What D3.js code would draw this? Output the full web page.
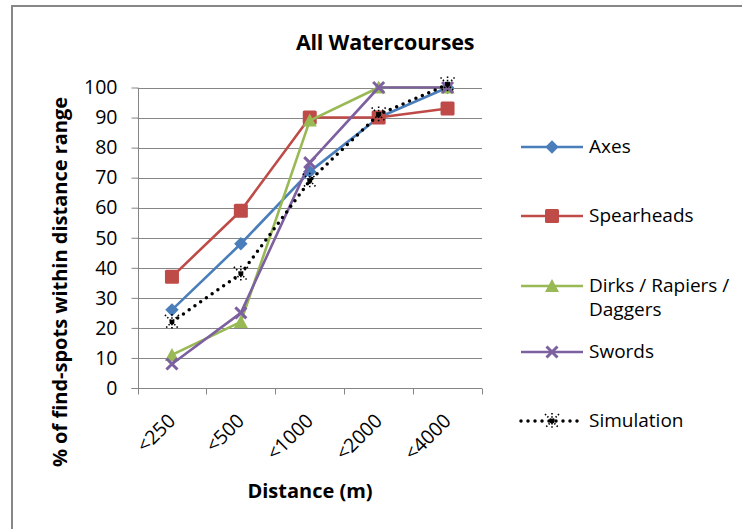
<!DOCTYPE html>
<html><head><meta charset="utf-8">
<script src="https://cdn.jsdelivr.net/npm/d3@7"></script>
<style>body{margin:0;background:#fff}svg{display:block}text{font-family:"Open Sans",Lato,sans-serif;fill:#000}</style>
</head><body><svg id="c" width="742" height="529"></svg>
<script>
const categories = ["<250", "<500", "<1000", "<2000", "<4000"];
const yTicks = [0,10,20,30,40,50,60,70,80,90,100];
const axes = [26, 48, 72, 90, 100];
const spearheads = [37, 59, 90, 90, 93];
const dirks = [11, 22, 89, 100, 100];
const swords = [8, 25, 75, 100, 100];
const simulation = [22, 38, 69, 91, 101];
const seriesNames = ["Axes", "Spearheads", "Dirks / Rapiers / Daggers", "Swords", "Simulation"];

const series = [
  {name: seriesNames[0], values: axes, color: "#4a7ebb", marker: "diamond"},
  {name: seriesNames[1], values: spearheads, color: "#be4b48", marker: "square"},
  {name: seriesNames[2], values: dirks, color: "#98b954", marker: "triangle"},
  {name: seriesNames[3], values: swords, color: "#7d60a0", marker: "x"},
  {name: seriesNames[4], values: simulation, color: "#000", marker: "star", dotted: true}
];

const svg = d3.select("#c");
const L = 137.5, R = 482, T = 87.5, B = 388;
const x = d3.scaleBand().domain(categories).range([L, R]);
const y = d3.scaleLinear().domain([0, 100]).range([B, T]);

// outer border (left & top visible)
svg.append("line").attr("x1", 12).attr("x2", 12).attr("y1", 6).attr("y2", 529).attr("stroke", "#878787").attr("stroke-width", 2);
svg.append("line").attr("x1", 11).attr("x2", 742).attr("y1", 6).attr("y2", 6).attr("stroke", "#878787").attr("stroke-width", 2);

// title
svg.append("text").attr("x", 385).attr("y", 50).attr("text-anchor", "middle")
  .style("font-size", "21.5px").style("font-weight", "bold").style("letter-spacing", "-0.2px").text("All Watercourses");

// gridlines
svg.append("g").selectAll("line").data(yTicks.filter(d => d > 0)).join("line")
  .attr("x1", L).attr("x2", R).attr("y1", d => Math.round(y(d)) + 0.5).attr("y2", d => Math.round(y(d)) + 0.5)
  .attr("stroke", "#868686").attr("stroke-width", 1);

// y axis
const yAxis = d3.axisLeft(y).tickValues(yTicks).tickSize(7).tickPadding(14);
const gy = svg.append("g").attr("transform", `translate(${Math.round(L) + 0.5},0)`).call(yAxis);
gy.select(".domain").attr("stroke", "#868686").attr("d", `M-7,${Math.round(y(0))+0.5}H0V${Math.round(y(100))+0.5}`);
gy.selectAll(".tick line").attr("stroke", "#868686");
gy.selectAll(".tick text").style("font-size", "19.5px").attr("font-family", null).attr("fill", "#000");

// x axis
const gx = svg.append("g").attr("transform", `translate(0,${Math.round(B) + 0.5})`);
gx.append("line").attr("x1", L).attr("x2", R).attr("stroke", "#868686");
const bounds = categories.map(c => x(c)).concat([R]);
gx.selectAll(".tk").data(bounds).join("line").attr("class", "tk")
  .attr("x1", d => Math.round(d) + 0.5).attr("x2", d => Math.round(d) + 0.5).attr("y1", 0).attr("y2", 6).attr("stroke", "#868686");
gx.selectAll(".lbl").data(categories).join("text").attr("class", "lbl")
  .attr("text-anchor", "end").style("font-size", "19.5px")
  .attr("transform", d => `translate(${x(d) + x.bandwidth()/2 - 5},${24}) rotate(-45)`)
  .attr("dy", "0.7em").text(d => d);

// axis titles
svg.append("text").attr("x", 310).attr("y", 498).attr("text-anchor", "middle")
  .style("font-size", "20px").style("font-weight", "bold").text("Distance (m)");
svg.append("text").attr("transform", `translate(59,${282}) rotate(-90)`).attr("text-anchor", "middle")
  .attr("dominant-baseline", "central")
  .style("font-size", "20px").style("font-weight", "bold").text("% of find-spots within distance range");

function drawMarker(g, type, color, cx, cy) {
  if (type === "diamond") {
    g.append("path").attr("d", d3.symbol(d3.symbolSquare, 90)()).attr("transform", `translate(${cx},${cy}) rotate(45)`).attr("fill", color);
  } else if (type === "square") {
    g.append("rect").attr("x", cx - 7).attr("y", cy - 7).attr("width", 14).attr("height", 14).attr("rx", 1.5).attr("fill", color);
  } else if (type === "triangle") {
    g.append("path").attr("d", `M${cx},${cy-7}L${cx+7},${cy+6}L${cx-7},${cy+6}Z`).attr("fill", color);
  } else if (type === "x") {
    g.append("path").attr("d", `M${cx-5.5},${cy-5.5}L${cx+5.5},${cy+5.5}M${cx+5.5},${cy-5.5}L${cx-5.5},${cy+5.5}`)
      .attr("stroke", color).attr("stroke-width", 3);
  } else if (type === "star") {
    g.append("path").attr("d", `M${cx-7},${cy-7}L${cx+7},${cy+7}M${cx+7},${cy-7}L${cx-7},${cy+7}M${cx},${cy-8}L${cx},${cy+8}`)
      .attr("stroke", color).attr("stroke-width", 1.6).attr("stroke-dasharray", "1.5 1.8");
    g.append("circle").attr("cx", cx).attr("cy", cy).attr("r", 2.5).attr("fill", color);
  }
}

const line = d3.line().x((d, i) => x(categories[i]) + x.bandwidth()/2).y(d => y(d));
series.forEach(s => {
  const g = svg.append("g");
  const p = g.append("path").attr("d", line(s.values)).attr("fill", "none").attr("stroke", s.color);
  if (s.dotted) p.attr("stroke-width", 3.5).attr("stroke-linecap", "round").attr("stroke-dasharray", "0 7");
  else p.attr("stroke-width", 2.6).attr("stroke-linejoin", "round");
  s.values.forEach((v, i) => drawMarker(g, s.marker, s.color, x(categories[i]) + x.bandwidth()/2, y(v)));
});

// legend
const legY = [147, 216, 286, 352, 421];
series.forEach((s, i) => {
  const g = svg.append("g");
  const ly = legY[i];
  const p = g.append("line").attr("x1", 521).attr("x2", 583).attr("y1", ly).attr("y2", ly).attr("stroke", s.color);
  if (s.dotted) p.attr("stroke-width", 3.5).attr("stroke-linecap", "round").attr("stroke-dasharray", "0 7");
  else p.attr("stroke-width", 2.6);
  drawMarker(g, s.marker, s.color, 552, ly);
  if (i === 2) {
    const t = g.append("text").attr("x", 589).attr("y", ly + 6).style("font-size", "19px");
    t.append("tspan").attr("x", 589).text("Dirks / Rapiers /");
    t.append("tspan").attr("x", 589).attr("dy", 24).text("Daggers");
  } else {
    g.append("text").attr("x", 589).attr("y", ly + 6).style("font-size", "19px").text(s.name);
  }
});
</script></body></html>
